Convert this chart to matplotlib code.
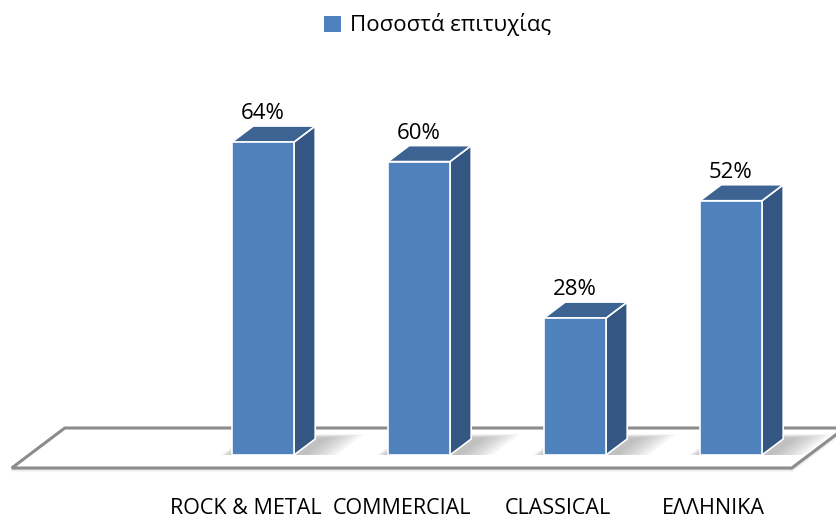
import matplotlib
matplotlib.use("Agg")
import matplotlib.pyplot as plt
from matplotlib.patches import Polygon, Rectangle

plt.rcParams['font.family'] = ['Open Sans', 'DejaVu Sans']

# Chart data
categories = ["", "ROCK & METAL", "COMMERCIAL", "CLASSICAL", "ΕΛΛΗΝΙΚΑ"]
values = [None, 64, 60, 28, 52]
series_name = "Ποσοστά επιτυχίας"

W, H = 837, 519
fig = plt.figure(figsize=(W / 100, H / 100), dpi=100)
ax = fig.add_axes([0, 0, 1, 1])

# scale: pixels per category and per percent point
px_cat = 156.0
px_pct = 4.89
x0_px, y0_px = 107.0, 455.0
ax.set_xlim(-x0_px / px_cat, (W - x0_px) / px_cat)
ax.set_ylim((y0_px - H) / px_pct, y0_px / px_pct)
ax.axis("off")

# oblique depth vector (full floor depth) in data units
Dx, Dy = 53.0 / px_cat, 40.0 / px_pct


def proj(x, y, z):
    return (x + z * Dx, y + z * Dy)


n = len(categories)
z_front, z_back = -13.0 / 40, 27.0 / 40
bar_depth = 16.0 / 40
hw = 31.0 / px_cat

front_col = "#4F81BD"
side_col = "#335683"
top_col = "#3D6393"

# floor shadow + floor
floor = [proj(-0.5, 0, z_front), proj(n - 0.5, 0, z_front),
         proj(n - 0.5, 0, z_back), proj(-0.5, 0, z_back)]
for k, a in enumerate([0.10, 0.07, 0.04]):
    off = (k + 1) * 1.0 / px_pct
    ax.add_patch(Polygon([(x, y - off) for x, y in floor], closed=True,
                         facecolor="none", edgecolor="#7f7f7f", lw=2.0, alpha=a,
                         zorder=1))
ax.add_patch(Polygon(floor, closed=True, facecolor="white",
                     edgecolor="#8c8c8c", lw=2.2, zorder=2, joinstyle="miter"))

for i, v in enumerate(values):
    if v is None:
        continue
    # soft shadow footprint on the floor around the base of each bar
    steps = 8
    for k in range(steps):
        s = 1.0 - k / steps
        left = i - hw - 0.07 * s
        right = i + hw + 0.05 + 0.22 * s
        z1 = bar_depth + 0.02 + 0.10 * s
        sh = [proj(left, 0, 0.0), proj(right, 0, 0.0),
              proj(right, 0, z1), proj(left, 0, z1)]
        ax.add_patch(Polygon(sh, closed=True, facecolor="#7a7a7a",
                             edgecolor="none", alpha=0.07, zorder=3))
    front = [proj(i - hw, 0, 0), proj(i + hw, 0, 0),
             proj(i + hw, v, 0), proj(i - hw, v, 0)]
    side = [proj(i + hw, 0, 0), proj(i + hw, 0, bar_depth),
            proj(i + hw, v, bar_depth), proj(i + hw, v, 0)]
    top = [proj(i - hw, v, 0), proj(i + hw, v, 0),
           proj(i + hw, v, bar_depth), proj(i - hw, v, bar_depth)]
    for poly, col in ((side, side_col), (top, top_col), (front, front_col)):
        ax.add_patch(Polygon(poly, closed=True, facecolor=col,
                             edgecolor="white", lw=1.2, zorder=4,
                             joinstyle="miter"))
    lx, ly = proj(i, v, bar_depth)
    ax.text(i, ly + 2.0 / px_pct, f"{v}%", ha="center", va="bottom",
            fontsize=16, color="black", zorder=6)

# category labels along the front edge of the floor
label_y = (y0_px - 508) / px_pct
for i, c in enumerate(categories):
    if not c:
        continue
    lx, _ = proj(i, 0, z_front)
    ax.text(lx, label_y, c, ha="center", va="center", fontsize=15.5,
            color="black")

# legend
handle = Rectangle((0, 0), 1, 1, facecolor=front_col, edgecolor="none")
fig.legend([handle], [series_name], loc="center",
           bbox_to_anchor=(0.523, 0.952), frameon=False, fontsize=16,
           handlelength=0.75, handleheight=0.75, handletextpad=0.4)

fig.savefig("out.png", dpi=100, facecolor="white")
